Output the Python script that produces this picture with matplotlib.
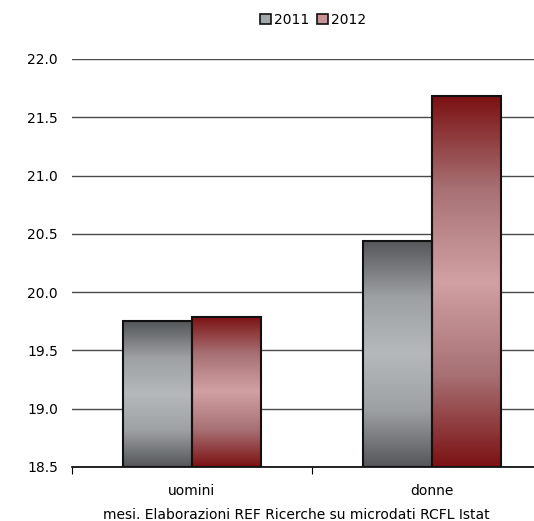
import numpy as np
import matplotlib
matplotlib.use("Agg")
import matplotlib.pyplot as plt
from matplotlib.colors import LinearSegmentedColormap
from matplotlib.patches import Rectangle

categories = ["uomini", "donne"]
series = ["2011", "2012"]
values_2011 = [19.75, 20.44]
values_2012 = [19.79, 21.68]
footnote = "mesi. Elaborazioni REF Ricerche su microdati RCFL Istat"

# dark edge -> light middle -> dark edge
GRAY = LinearSegmentedColormap.from_list("g", ["#55575b", "#9ea1a4", "#b6b9bc", "#9ea1a4", "#55575b"])
RED = LinearSegmentedColormap.from_list("r", ["#7c1214", "#a87275", "#d1a1a4", "#a87275", "#7c1214"])

plt.rcParams["font.family"] = ["DejaVu Sans"]

fig = plt.figure(figsize=(5.34, 5.21), dpi=100)
ax = fig.add_axes([72 / 534, 54 / 521, 480 / 534, 408 / 521])

ymin, ymax = 18.5, 22.0
x = np.arange(len(categories))
w = 0.2875
grad = np.linspace(0, 1, 128).reshape(-1, 1)

for vals, cmap, off in [(values_2011, GRAY, -w / 2), (values_2012, RED, w / 2)]:
    bars = ax.bar(x + off, np.array(vals) - ymin, w, bottom=ymin,
                  facecolor="none", edgecolor="#111111", linewidth=1.5, zorder=4)
    for b in bars:
        x0, y0 = b.get_x(), b.get_y()
        im = ax.imshow(grad, cmap=cmap, aspect="auto", interpolation="bilinear",
                       extent=(x0, x0 + b.get_width(), y0, y0 + b.get_height()), zorder=3)
        im.set_clip_path(b)

ax.set_xlim(-0.5, 1.5)
ax.set_ylim(ymin, ymax)
ax.set_yticks(np.arange(18.5, 22.01, 0.5))
ax.set_yticklabels([f"{v:.1f}" for v in np.arange(18.5, 22.01, 0.5)], fontsize=10)
ax.tick_params(axis="y", length=0, pad=10)
ax.yaxis.grid(True, color="#4a4a4a", linewidth=1)
ax.set_axisbelow(True)

ax.set_xticks([-0.5, 0.5, 1.5])
ax.set_xticks(x, minor=True)
ax.set_xticklabels([])
ax.set_xticklabels(categories, minor=True, fontsize=10)
ax.tick_params(axis="x", which="major", length=5, color="black")
ax.tick_params(axis="x", which="minor", length=0, pad=12)

for s in ["left", "right", "top"]:
    ax.spines[s].set_visible(False)
ax.spines["bottom"].set_color("black")
ax.spines["bottom"].set_linewidth(1.2)

handles = [Rectangle((0, 0), 1, 1, facecolor="#a4a7aa", edgecolor="#111111", linewidth=1.2),
           Rectangle((0, 0), 1, 1, facecolor="#c99396", edgecolor="#111111", linewidth=1.2)]
fig.legend(handles, series, loc="center", bbox_to_anchor=(313 / 534, 1 - 20 / 521),
           ncol=2, frameon=False, fontsize=10, handlelength=0.8, handleheight=0.8,
           handletextpad=0.2, columnspacing=0.6)

fig.text(103 / 534, 1 - 515 / 521, footnote, fontsize=10, va="center", ha="left")

fig.savefig("out.png", dpi=100)
